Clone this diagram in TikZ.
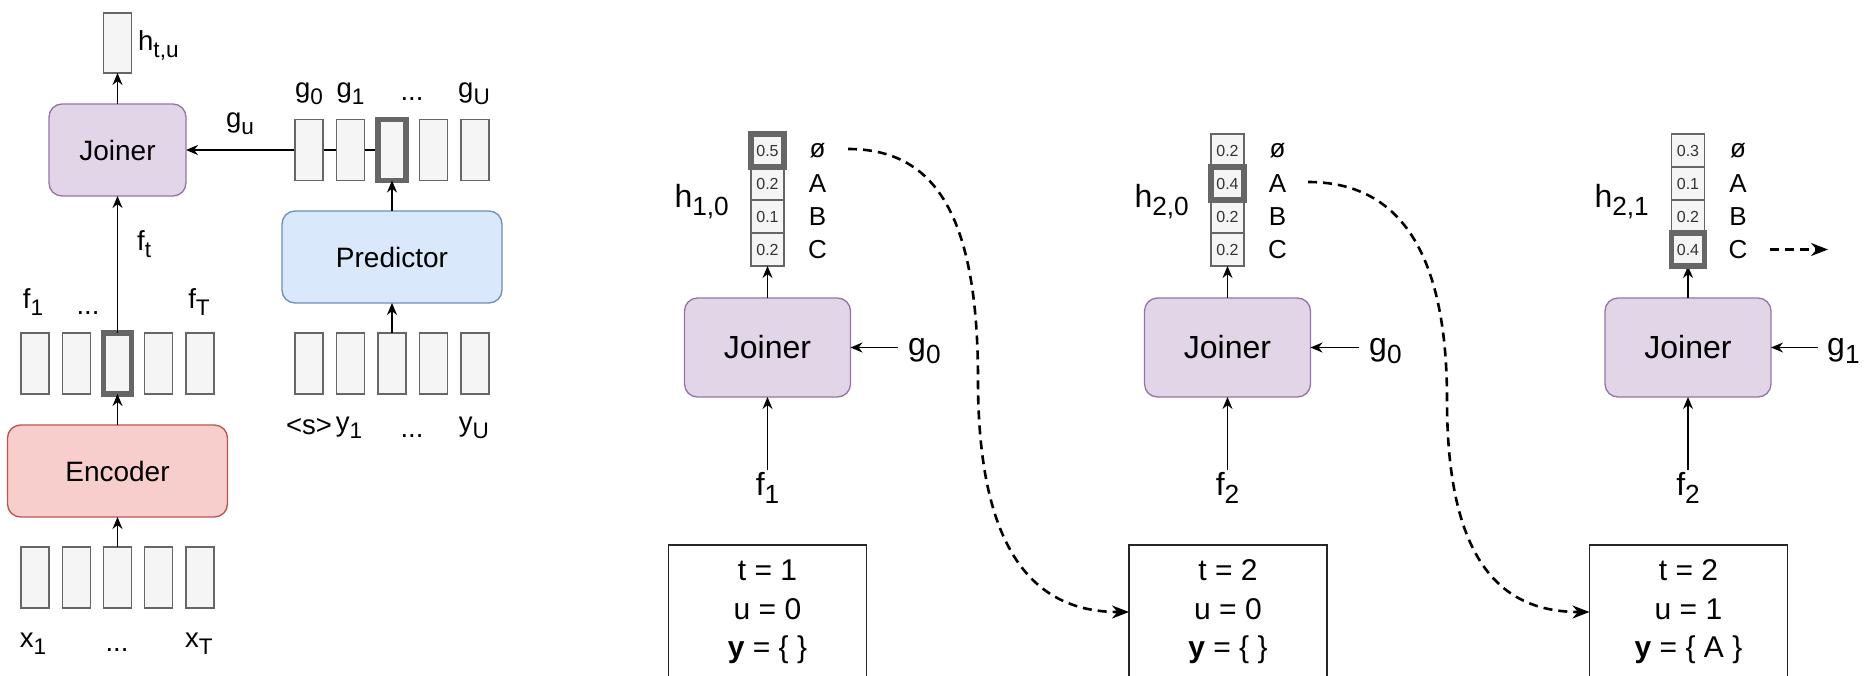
\documentclass[tikz,border=0pt]{standalone}
\usepackage{fontspec}
\setmainfont{Liberation Sans}
\usepackage{graphicx}
\usetikzlibrary{arrows.meta}

\definecolor{boxfill}{HTML}{F5F5F5}
\definecolor{boxline}{HTML}{666666}
\definecolor{numtext}{HTML}{333333}
\definecolor{joinfill}{HTML}{E1D5E7}
\definecolor{joinline}{HTML}{9673A6}
\definecolor{predfill}{HTML}{DAE8FC}
\definecolor{predline}{HTML}{6C8EBF}
\definecolor{encfill}{HTML}{F8CECC}
\definecolor{encline}{HTML}{B85450}

% lowered, reduced index
\newcommand\lo[1]{\raisebox{-0.27em}{\scalebox{0.82}{#1}}}

\pgfdeclarelayer{back}
\pgfsetlayers{back,main}

\tikzset{
  vec/.style={draw=boxline, fill=boxfill, line width=1.3pt, minimum width=28pt,
    minimum height=61pt, inner sep=0pt, outer sep=0pt},
  hot/.style={line width=5.5pt},
  cell/.style={draw=boxline, fill=boxfill, line width=1.3pt, minimum width=33pt,
    minimum height=33pt, inner sep=0pt, outer sep=0pt,
    font=\fontsize{16}{16}\selectfont, text=numtext},
  hotframe/.style={draw=boxline, line width=5.5pt},
  block/.style={rounded corners=13pt, line width=1.3pt, inner sep=0pt, outer sep=0pt, align=center},
  joiner/.style={block, draw=joinline, fill=joinfill},
  lbl/.style={inner sep=0pt, font=\fontsize{27.5}{27.5}\selectfont},
  rlbl/.style={inner sep=0pt, font=\fontsize{32}{32}\selectfont},
  sym/.style={inner sep=0pt, font=\fontsize{26}{26}\selectfont},
  flow/.style={-{Stealth[length=12pt,width=10pt]}, line width=1.4pt},
  jump/.style={-{Stealth[length=17pt,width=13pt]}, line width=2.6pt, dash pattern=on 9pt off 6pt},
  state/.style={draw=black!85, line width=1.5pt, minimum width=198pt, minimum height=134pt,
    inner sep=0pt, outer sep=0pt, align=center, font=\fontsize{30}{38.5}\selectfont}
}

\begin{document}
\begin{tikzpicture}[x=1pt, y=-1pt]
\useasboundingbox (0,0) rectangle (1869,675);
\clip (0,0) rectangle (1869,675);

% ---------------- model overview ----------------
% output vector
\node[vec, minimum height=60pt] (hv) at (117.5,43) {};
\node[lbl, anchor=base west] (hvl) at (138,50) {h\lo{t,u}};

% joiner
\node[joiner, minimum width=137pt, minimum height=92pt, font=\fontsize{28}{28}\selectfont] (jl) at (117.5,150) {Joiner};

% predictor outputs
\node[vec] (g1) at (309,150) {};
\node[vec] (g2) at (350.5,150) {};
\node[vec, hot] (g3) at (392,150) {};
\node[vec] (g4) at (433.5,150) {};
\node[vec] (g5) at (475,150) {};
\node[lbl, anchor=base] (g1l) at (309,97) {g\lo{0}};
\node[lbl, anchor=base] (g2l) at (350.5,97) {g\lo{1}};
\node[lbl, anchor=base] (g3l) at (412,100) {...};
\node[lbl, anchor=base] (g5l) at (474,97) {g\lo{U}};
\node[lbl, anchor=base] (gul) at (240,127) {g\lo{u}};

% predictor
\node[block, draw=predline, fill=predfill, minimum width=220pt, minimum height=92pt,
  font=\fontsize{28}{28}\selectfont] (pred) at (392,257) {Predictor};

% predictor inputs
\node[vec] (y1) at (309,363.5) {};
\node[vec] (y2) at (350.5,363.5) {};
\node[vec] (y3) at (392,363.5) {};
\node[vec] (y4) at (433.5,363.5) {};
\node[vec] (y5) at (475,363.5) {};
\node[lbl, anchor=base] (y1l) at (309,434) {<s>};
\node[lbl, anchor=base] (y2l) at (349,431) {y\lo{1}};
\node[lbl, anchor=base] (y3l) at (412,437) {...};
\node[lbl, anchor=base] (y5l) at (474,431) {y\lo{U}};

% encoder outputs
\node[vec] (f1) at (35,363.5) {};
\node[vec] (f2) at (76.25,363.5) {};
\node[vec, hot] (f3) at (117.5,363.5) {};
\node[vec] (f4) at (158.75,363.5) {};
\node[vec] (f5) at (200,363.5) {};
\node[lbl, anchor=base] (f1l) at (33,308) {f\lo{1}};
\node[lbl, anchor=base] (f2l) at (88,314) {...};
\node[lbl, anchor=base] (f5l) at (199,308) {f\lo{T}};
\node[lbl, anchor=base west] (ftl) at (137,250) {f\lo{t}};

% encoder
\node[block, draw=encline, fill=encfill, minimum width=220pt, minimum height=92pt,
  font=\fontsize{28}{28}\selectfont] (enc) at (117.5,471) {Encoder};

% encoder inputs
\node[vec] (x1) at (35,577.5) {};
\node[vec] (x2) at (76.25,577.5) {};
\node[vec] (x3) at (117.5,577.5) {};
\node[vec] (x4) at (158.75,577.5) {};
\node[vec] (x5) at (200,577.5) {};
\node[lbl, anchor=base] (x1l) at (33,647) {x\lo{1}};
\node[lbl, anchor=base] (x3l) at (117,651) {...};
\node[lbl, anchor=base] (x5l) at (199,647) {x\lo{T}};

% connections
\draw[flow] (jl.north) -- (hv.south);
\draw[flow] (f3.north) -- (jl.south);
\draw[flow] (enc.north) -- (f3.south);
\draw[flow] (x3.north) -- (enc.south);
\draw[flow] (pred.north) -- (g3.south);
\draw[flow] (y3.north) -- (pred.south);
\begin{pgfonlayer}{back}
\draw[flow] (g3.center) -- (jl.east);
\end{pgfonlayer}

% ---------------- decoding steps ----------------
\foreach \n/\x in {1/767.5, 2/1227.5, 3/1688} {
  \node[joiner, minimum width=166pt, minimum height=99pt, font=\fontsize{32}{32}\selectfont] (j\n) at (\x,347.5) {Joiner};
}
\foreach \n/\x/\a/\b/\c/\d in {1/767.5/0.5/0.2/0.1/0.2, 2/1227.5/0.2/0.4/0.2/0.2, 3/1688/0.3/0.1/0.2/0.4} {
  \node[cell] (p\n a) at (\x,150.5) {\a};
  \node[cell] (p\n b) at (\x,183.5) {\b};
  \node[cell] (p\n c) at (\x,216.5) {\c};
  \node[cell] (p\n d) at (\x,249.5) {\d};
  \node[sym] (s\n a) at (\x+50,150.5) {ø};
  \node[sym] (s\n b) at (\x+50,183.5) {A};
  \node[sym] (s\n c) at (\x+50,216.5) {B};
  \node[sym] (s\n d) at (\x+50,249.5) {C};
  \draw[flow] (j\n.north) -- (p\n d.south);
}
% selected entries
\draw[hotframe] (p1a.north west) rectangle (p1a.south east);
\draw[hotframe] (p2b.north west) rectangle (p2b.south east);
\draw[hotframe] (p3d.north west) rectangle (p3d.south east);

% vector names
\node[rlbl, anchor=base east] (h1l) at (729,207) {h\lo{1,0}};
\node[rlbl, anchor=base east] (h2l) at (1189,207) {h\lo{2,0}};
\node[rlbl, anchor=base east] (h3l) at (1649,207) {h\lo{2,1}};

% predictor inputs of each step
\node[rlbl, anchor=base west] (q1l) at (908,355) {g\lo{0}};
\node[rlbl, anchor=base west] (q2l) at (1369,355) {g\lo{0}};
\node[rlbl, anchor=base west] (q3l) at (1827,355) {g\lo{1}};
\coordinate (q1t) at (898,347.5);
\coordinate (q2t) at (1359,347.5);
\coordinate (q3t) at (1818,347.5);
\draw[flow] (q1t) -- (j1.east);
\draw[flow] (q2t) -- (j2.east);
\draw[flow] (q3t) -- (j3.east);

% encoder inputs of each step
\node[rlbl, anchor=base, inner ysep=2pt] (e1l) at (767.5,495) {f\lo{1}};
\node[rlbl, anchor=base, inner ysep=2pt] (e2l) at (1227.5,495) {f\lo{2}};
\node[rlbl, anchor=base, inner ysep=2pt] (e3l) at (1688,495) {f\lo{2}};
\draw[flow] (e1l.north) -- (j1.south);
\draw[flow] (e2l.north) -- (j2.south);
\draw[flow] (e3l.north) -- (j3.south);

% decoder states
\node[state] (st1) at (767.5,612) {t = 1\\u = 0\\\textbf{y} = \{ \}};
\node[state] (st2) at (1228,612) {t = 2\\u = 0\\\textbf{y} = \{ \}};
\node[state] (st3) at (1688.5,612) {t = 2\\u = 1\\\textbf{y} = \{ A \}};

% transitions
\coordinate (d1s) at (848,149);
\coordinate (d2s) at (1308,182);
\coordinate (d3s) at (1770,249.5);
\coordinate (d3e) at (1828,249.5);
\draw[jump] (d1s) .. controls (935,149) and (978,215) .. (978,380)
  .. controls (978,560) and (1040,612) .. (st2.west);
\draw[jump] (d2s) .. controls (1398,182) and (1447,250) .. (1447,400)
  .. controls (1447,560) and (1500,612) .. (st3.west);
\draw[jump] (d3s) -- (d3e);
\end{tikzpicture}
\end{document}
